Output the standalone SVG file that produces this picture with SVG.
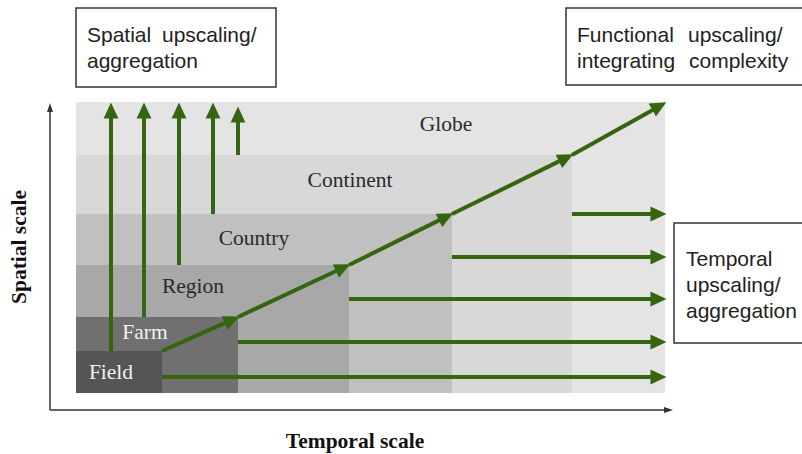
<svg xmlns="http://www.w3.org/2000/svg" width="802" height="454" viewBox="0 0 802 454">
<style>
.lbl{font-family:"Liberation Serif","Times New Roman",serif;font-size:21.5px;fill:#2a2a2a}
.wlbl{font-family:"Liberation Serif","Times New Roman",serif;font-size:21.5px;fill:#f2f2f2}
.ax{font-family:"Liberation Serif","Times New Roman",serif;font-size:21.5px;font-weight:bold;fill:#111}
.box{fill:#fff;stroke:#333;stroke-width:1.5}
.bt{font-family:"Liberation Sans",Arial,sans-serif;font-size:21px;fill:#222}
.g{stroke:#35650f;stroke-width:4;fill:none;marker-end:url(#ga)}
.axl{stroke:#333;stroke-width:1.5;fill:none;marker-end:url(#ka)}
</style>
<defs>
<marker id="ga" markerUnits="userSpaceOnUse" markerWidth="16" markerHeight="16" viewBox="0 0 14 14" refX="4" refY="7" orient="auto">
<path d="M0,0.5 L14,7 L0,13.5 Z" fill="#35650f"/>
</marker>
<marker id="ka" markerUnits="userSpaceOnUse" markerWidth="10" markerHeight="8" viewBox="0 0 10 8" refX="2" refY="4" orient="auto">
<path d="M0,1 L9,4 L0,7 Z" fill="#333"/>
</marker>
</defs>
<rect width="802" height="454" fill="#fff"/>
<g id="globe"><rect x="76" y="102" width="589" height="291" fill="#e4e4e4"/><text class="lbl" x="446" y="131" text-anchor="middle">Globe</text></g>
<g id="continent"><rect x="76" y="155" width="496" height="238" fill="#d8d8d8"/><text class="lbl" x="350" y="187" text-anchor="middle">Continent</text></g>
<g id="country"><rect x="76" y="214" width="376" height="179" fill="#c0c0c0"/><text class="lbl" x="254" y="245" text-anchor="middle">Country</text></g>
<g id="region"><rect x="76" y="265" width="273" height="128" fill="#a8a8a8"/><text class="lbl" x="193" y="293" text-anchor="middle">Region</text></g>
<g id="farm"><rect x="76" y="317" width="162" height="76" fill="#707070"/><text class="wlbl" x="145" y="339" text-anchor="middle">Farm</text></g>
<g id="field"><rect x="76" y="351" width="86" height="42" fill="#555555"/><text class="wlbl" x="111" y="379" text-anchor="middle">Field</text></g>
<g id="spatial-box"><rect class="box" x="76" y="8" width="200" height="79"/><text class="bt" x="87" y="42">Spatial</text><text class="bt" x="162" y="42">upscaling/</text><text class="bt" x="87" y="68">aggregation</text></g>
<g id="functional-box"><rect class="box" x="566" y="8" width="246" height="77"/><text class="bt" x="577" y="42">Functional</text><text class="bt" x="688" y="42">upscaling/</text><text class="bt" x="577" y="68">integrating</text><text class="bt" x="689" y="68">complexity</text></g>
<g id="temporal-box"><rect class="box" x="674" y="223" width="140" height="120"/><text class="bt" x="686" y="266">Temporal</text><text class="bt" x="686" y="292">upscaling/</text><text class="bt" x="686" y="318">aggregation</text></g>
<g id="axis-labels"><text class="ax" x="355" y="448" text-anchor="middle">Temporal scale</text><text class="ax" transform="translate(26,247) rotate(-90)" text-anchor="middle">Spatial scale</text></g>
<g id="connectors">
<line class="axl" x1="50" y1="410" x2="50" y2="110"/>
<line class="axl" x1="50" y1="410" x2="666" y2="410"/>
<line class="g" x1="111" y1="351" x2="111" y2="114"/>
<line class="g" x1="144" y1="317" x2="144" y2="114"/>
<line class="g" x1="179" y1="265" x2="179" y2="114"/>
<line class="g" x1="213" y1="214" x2="213" y2="114"/>
<path d="M238,155 V118" stroke="#35650f" stroke-width="4" marker-end="url(#ga)" fill="none"/>
<line class="g" x1="162" y1="377" x2="655" y2="377"/>
<line class="g" x1="238" y1="342" x2="655" y2="342"/>
<line class="g" x1="349" y1="299" x2="655" y2="299"/>
<line class="g" x1="452" y1="257" x2="655" y2="257"/>
<line class="g" x1="572" y1="214" x2="655" y2="214"/>
<line class="g" x1="162" y1="351" x2="228.9" y2="321.1"/>
<line class="g" x1="238" y1="317" x2="339.9" y2="269.2"/>
<line class="g" x1="349" y1="265" x2="443" y2="218.4"/>
<line class="g" x1="452" y1="214" x2="563" y2="159.4"/>
<line class="g" x1="572" y1="155" x2="656.3" y2="107.9"/>
</g>
</svg>
